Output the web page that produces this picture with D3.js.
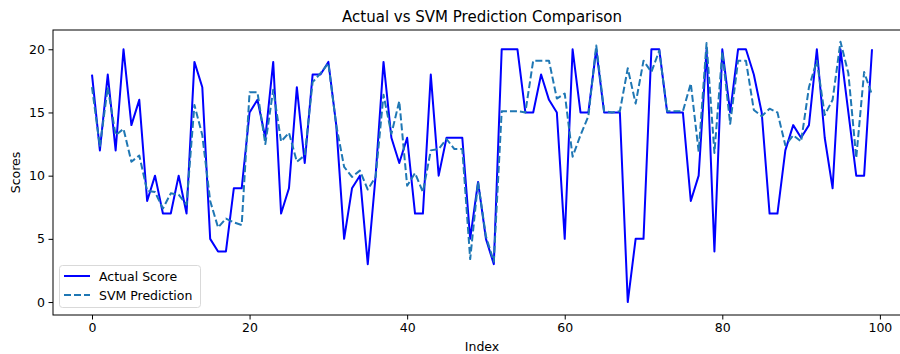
<!DOCTYPE html>
<html>
<head>
<meta charset="utf-8">
<script src="https://cdn.jsdelivr.net/npm/d3@7"></script>
<style>
  html, body { margin: 0; padding: 0; background: #fff; }
  svg { display: block; font-family: "DejaVu Sans", sans-serif; }
</style>
</head>
<body>
<svg id="chart" width="900" height="354"></svg>
<script>
const title = "Actual vs SVM Prediction Comparison";
const xLabel = "Index";
const yLabel = "Scores";
const seriesNames = ["Actual Score", "SVM Prediction"];
const xTicks = [0, 20, 40, 60, 80, 100];
const yTicks = [0, 5, 10, 15, 20];

const actual = [
  18, 12, 18, 12, 20, 14, 16, 8, 10, 7,
  7, 10, 7, 19, 17, 5, 4, 4, 9, 9,
  15, 16, 13, 19, 7, 9, 17, 11, 18, 18,
  19, 14, 5, 9, 10, 3, 10, 19, 13, 11,
  13, 7, 7, 18, 10, 13, 13, 13, 5, 9.5,
  5, 3, 20, 20, 20, 15, 15, 18, 16, 15,
  5, 20, 15, 15, 20, 15, 15, 15, 0, 5,
  5, 20, 20, 15, 15, 15, 8, 10, 20, 4,
  20, 15, 20, 20, 18, 15, 7, 7, 12, 14,
  13, 14, 20, 13, 9, 20, 15, 10, 10, 20
];

const svm = [
  17.0, 12.3, 17.0, 13.2, 13.7, 11.1, 11.6, 8.8, 8.7, 7.4,
  8.6, 8.5, 7.7, 15.6, 13.2, 8.0, 5.9, 6.6, 6.3, 6.1,
  16.6, 16.6, 12.5, 16.8, 12.7, 13.4, 11.1, 11.6, 17.4, 18.1,
  18.9, 14.0, 10.7, 9.9, 10.4, 8.9, 9.9, 16.4, 13.3, 15.9,
  9.2, 10.2, 8.7, 12.0, 12.1, 12.9, 12.1, 12.1, 3.4, 9.5,
  5.2, 3.2, 15.1, 15.1, 15.1, 15.0, 19.1, 19.1, 19.1, 16.1,
  16.5, 11.5, 13.2, 14.7, 20.3, 15.1, 15.0, 15.1, 18.5, 15.7,
  19.1, 18.2, 19.9, 15.1, 15.1, 15.1, 17.3, 11.9, 20.5, 11.8,
  19.8, 14.1, 19.1, 19.1, 15.2, 14.7, 15.3, 15.0, 12.4, 13.2,
  12.7, 17.0, 19.1, 14.8, 16.0, 20.6, 18.1, 11.4, 18.2, 16.4
];

const svg = d3.select("#chart");
const plotL = 53, plotR = 911, plotT = 30, plotB = 315;

const x = d3.scaleLinear().domain([-4.95, 103.95]).range([plotL, plotR]);
const y = d3.scaleLinear().domain([-1.025, 21.525]).range([plotB, plotT]);

const lineGen = d3.line().x((d, i) => x(i)).y(d => y(d));
svg.append("clipPath").attr("id", "plotclip")
  .append("rect").attr("x", plotL).attr("y", plotT).attr("width", plotR - plotL).attr("height", plotB - plotT);

const g = svg.append("g").attr("clip-path", "url(#plotclip)");
g.append("path").datum(actual)
  .attr("d", lineGen).attr("fill", "none")
  .attr("stroke", "#0000ff").attr("stroke-width", 2)
  .attr("stroke-linejoin", "round");
g.append("path").datum(svm)
  .attr("d", lineGen).attr("fill", "none")
  .attr("stroke", "#1f77b4").attr("stroke-width", 2)
  .attr("stroke-dasharray", "7,3")
  .attr("stroke-linejoin", "round");

// spines
svg.append("rect").attr("x", plotL).attr("y", plotT)
  .attr("width", plotR - plotL).attr("height", plotB - plotT)
  .attr("fill", "none").attr("stroke", "#000").attr("stroke-width", 1);

// axes
const xAxis = d3.axisBottom(x).tickValues(xTicks).tickSize(4.5).tickPadding(3.5).tickFormat(d3.format("d"));
const yAxis = d3.axisLeft(y).tickValues(yTicks).tickSize(4.5).tickPadding(3.5).tickFormat(d3.format("d"));

const gx = svg.append("g").attr("transform", `translate(0,${plotB})`).call(xAxis);
const gy = svg.append("g").attr("transform", `translate(${plotL},0)`).call(yAxis);
[gx, gy].forEach(a => {
  a.select(".domain").remove();
  a.selectAll("line").attr("stroke", "#000");
  a.selectAll("text").attr("fill", "#000").style("font-size", "12.5px")
    .style("font-family", "'DejaVu Sans', sans-serif");
});

// title & labels
svg.append("text").attr("x", (plotL + plotR) / 2).attr("y", 22)
  .attr("text-anchor", "middle").style("font-size", "15px").attr("fill", "#000").text(title);
svg.append("text").attr("x", (plotL + plotR) / 2).attr("y", 351)
  .attr("text-anchor", "middle").style("font-size", "12.5px").attr("fill", "#000").text(xLabel);
svg.append("text").attr("transform", `translate(20,${(plotT + plotB) / 2}) rotate(-90)`)
  .attr("text-anchor", "middle").style("font-size", "12.5px").attr("fill", "#000").text(yLabel);

// legend
const lg = svg.append("g");
lg.append("rect").attr("x", 59.5).attr("y", 265.5).attr("width", 141).attr("height", 42)
  .attr("rx", 3).attr("fill", "#fff").attr("fill-opacity", 0.8)
  .attr("stroke", "#d9d9d9").attr("stroke-width", 1);
const legendItems = [
  { name: seriesNames[0], color: "#0000ff", dash: null, yy: 276 },
  { name: seriesNames[1], color: "#1f77b4", dash: "7,3", yy: 295 }
];
legendItems.forEach(it => {
  lg.append("line").attr("x1", 64).attr("x2", 90).attr("y1", it.yy).attr("y2", it.yy)
    .attr("stroke", it.color).attr("stroke-width", 2)
    .attr("stroke-dasharray", it.dash);
  lg.append("text").attr("x", 99).attr("y", it.yy + 4.5)
    .style("font-size", "12.5px").attr("fill", "#000").text(it.name);
});
</script>
</body>
</html>
